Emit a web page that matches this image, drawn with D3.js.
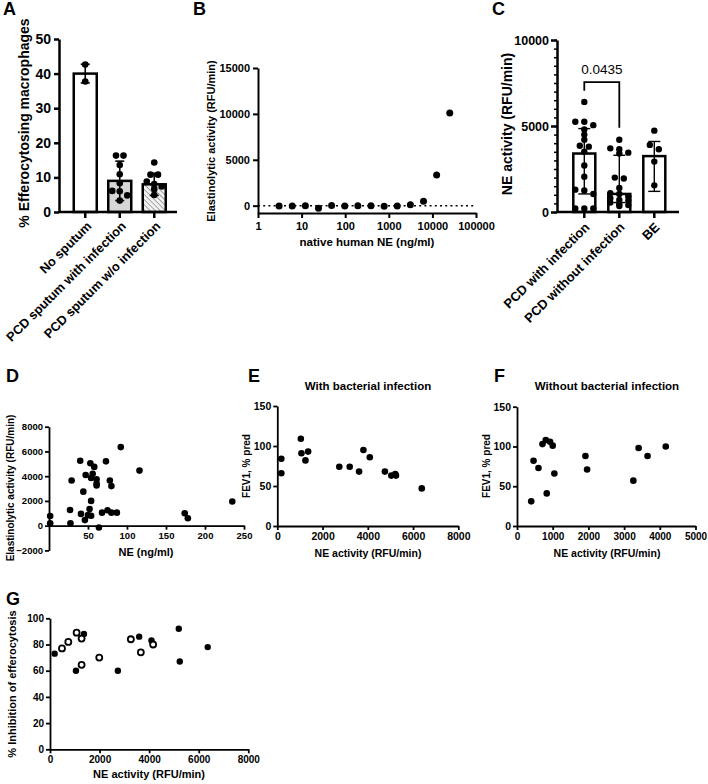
<!DOCTYPE html>
<html><head><meta charset="utf-8">
<script src="https://cdn.jsdelivr.net/npm/d3@7"></script>
<style>
body{margin:0;background:#fff}
svg{display:block}
text{font-family:'Liberation Sans',Arial,Helvetica,sans-serif;fill:#000}
</style>
</head><body>
<svg id="c" width="708" height="784"></svg>
<script>
// ---------------- DATA ----------------
// Panel A
const aCategories = ["No sputum", "PCD sputum with infection", "PCD sputum w/o infection"];
const aMeans = [40, 9, 8];
const aSD = [2.7, 5.7, 3.2];
const aPoints = [
  [42.6, 37.7],
  [16.3, 16.3, 13.6, 10.9, 8.3, 6.1, 6.0, 4.8, 3.3],
  [14.3, 10.8, 10.8, 8.8, 8.1, 7.4, 6.6, 4.9]
];
const aTicks = [0, 10, 20, 30, 40, 50];

// Panel B
const bDose = [3.05, 6.1, 12.2, 24.4, 48.8, 97.7, 195.3, 390.6, 781.3, 1562.5, 3125, 6250, 12500, 25000];
const bActivity = [-50, -30, 0, -280, 20, -40, 0, -20, -60, -30, 100, 480, 3350, 10100];
const bXTicks = [1, 10, 100, 1000, 10000, 100000];
const bYTicks = [0, 5000, 10000, 15000];

// Panel C
const cCategories = ["PCD with infection", "PCD without infection", "BE"];
const cBars = [3400, 1050, 3250];
const cErrLow = [1050, 550, 1200];
const cErrHigh = [4850, 3300, 4100];
const cPoints = [
  [6400, 5250, 5250, 5050, 4800, 4500, 4200, 3850, 3800, 3500, 2700, 2050, 1300, 1250, 1050, 200, 200, 200],
  [4200, 3700, 3650, 3450, 3400, 2000, 1950, 1400, 1100, 1050, 900, 800, 700, 650, 550, 450, 400, 350],
  [4730, 3900, 3650, 2930, 1550]
];
const cYTicks = [0, 5000, 10000];
const cPValue = "0.0435";
const cBracketTop = 7550, cBracketLeftEnd = 7050, cBracketRightEnd = 4900;

// Panel D
const dNE = [1.5, 1.5, 27, 27.5, 29, 40, 41, 44, 46, 47, 50, 52, 53, 54, 54, 54, 56, 58, 61, 61, 61, 64, 68, 73, 75, 78, 80, 80, 87, 92, 116, 174, 178, 235];
const dActivity = [780, 200, 1270, 200, 3650, 5250, 950, 2750, 450, 4100, 850, 1350, 5050, 3850, 2000, 800, 4200, 4750, 3750, 3400, 3250, -150, 1050, 5200, 1250, 3650, 3200, 1050, 1050, 6350, 4450, 1000, 600, 1950];
const dXTicks = [50, 100, 150, 200, 250];
const dYTicks = [-2000, 0, 2000, 4000, 6000, 8000];

// Panel E
const eNE = [178, 178, 1040, 1067, 1244, 1363, 2740, 3200, 3615, 3807, 4089, 4756, 5037, 5215, 5244, 6385];
const eFEV1 = [84, 66, 109, 91, 82, 93, 74, 74, 68, 95, 86, 68, 63, 65, 63, 47];
const eXTicks = [0, 2000, 4000, 6000, 8000];
const eYTicks = [0, 50, 100, 150];

// Panel F
const fNE = [398, 463, 602, 713, 806, 833, 926, 1000, 1046, 1917, 1963, 3259, 3407, 3657, 4167];
const fFEV1 = [31, 82, 73, 103, 108, 41, 106, 101, 66, 88, 71, 57, 98, 88, 100];
const fXTicks = [0, 1000, 2000, 3000, 4000, 5000];
const fYTicks = [0, 50, 100, 150];

// Panel G
const gInfNE = [188, 1047, 1369, 2738, 3597, 4094, 5195, 5235, 6362];
const gInfInhibition = [73, 60, 88, 60, 86, 83, 92, 67, 78];
const gNoInfNE = [483, 738, 1074, 1275, 1275, 1987, 3262, 3664, 4161];
const gNoInfInhibition = [77, 82, 89, 84.5, 64.5, 70, 84, 74, 80];
const gXTicks = [0, 2000, 4000, 6000, 8000];
const gYTicks = [0, 20, 40, 60, 80, 100];

// ---------------- DRAWING ----------------
const FONT = "'Liberation Sans', Arial, Helvetica, sans-serif";
const fmt = d3.format("d");
const svg = d3.select("#c");

const defs = svg.append("defs");
const pat = defs.append("pattern").attr("id", "hatch").attr("patternUnits", "userSpaceOnUse")
  .attr("width", 3.6).attr("height", 3.6).attr("patternTransform", "rotate(-45)");
pat.append("rect").attr("width", 3.6).attr("height", 3.6).attr("fill", "#f2f2f2");
pat.append("line").attr("x1", 0).attr("y1", 0).attr("x2", 0).attr("y2", 3.6)
  .attr("stroke", "#8a8a8a").attr("stroke-width", 1.5);

function styleAxis(g, sw, fs) {
  g.attr("font-family", FONT).attr("font-size", fs);
  g.selectAll("path,line").attr("stroke", "#000").attr("stroke-width", sw);
  g.selectAll("text").style("font-weight", "bold").attr("fill", "#000");
}
function label(t, x, y, size) {
  svg.append("text").attr("x", x).attr("y", y).attr("font-size", size).style("font-weight", "bold").text(t);
}
function vTitle(t, cx, cy, size) {
  svg.append("text").attr("transform", `translate(${cx},${cy}) rotate(-90)`)
    .attr("text-anchor", "middle").attr("dominant-baseline", "central")
    .attr("font-size", size).style("font-weight", "bold").text(t);
}
function hTitle(t, cx, y, size, weight) {
  svg.append("text").attr("x", cx).attr("y", y).attr("text-anchor", "middle")
    .attr("font-size", size).style("font-weight", weight || "bold").text(t);
}
// row-based swarm layout like Prism
function swarm(values, yScale, cx, spacing, rowH, maxPerRow) {
  const idx = values.map((v, i) => i).sort((a, b) => values[b] - values[a]);
  const rows = [];
  idx.forEach(i => {
    const y = yScale(values[i]);
    const last = rows[rows.length - 1];
    if (last && Math.abs(y - last.y0) < rowH && last.items.length < maxPerRow) last.items.push({ i, y });
    else rows.push({ y0: y, items: [{ i, y }] });
  });
  const out = [];
  rows.forEach(r => {
    const n = r.items.length;
    r.items.forEach((it, k) => out.push({ x: cx + (k - (n - 1) / 2) * spacing, y: it.y }));
  });
  return out;
}

// ===== Panel A =====
(function () {
  const yA = d3.scaleLinear().domain([0, 50]).range([212, 39]);
  const xA = d3.scaleBand().domain(aCategories).range([73.75, 165.75]).paddingInner(1 - 23 / 34.5).paddingOuter(0);
  const fills = ["#ffffff", "#d6d6d6", "url(#hatch)"];
  const g = svg.append("g");
  g.selectAll("rect.bar").data(aCategories).join("rect")
    .attr("x", d => xA(d)).attr("width", xA.bandwidth())
    .attr("y", (d, i) => yA(aMeans[i])).attr("height", (d, i) => yA(0) - yA(aMeans[i]))
    .attr("fill", (d, i) => fills[i]).attr("stroke", "#000").attr("stroke-width", 2.5);
  aCategories.forEach((c, i) => {
    const cx = xA(c) + xA.bandwidth() / 2;
    const lo = yA(aMeans[i] - aSD[i]), hi = yA(aMeans[i] + aSD[i]);
    g.append("line").attr("x1", cx).attr("x2", cx).attr("y1", lo).attr("y2", hi).attr("stroke", "#000").attr("stroke-width", 1.6);
    [lo, hi].forEach(y => g.append("line").attr("x1", cx - 4.5).attr("x2", cx + 4.5).attr("y1", y).attr("y2", y).attr("stroke", "#000").attr("stroke-width", 1.6));
    const pts = swarm(aPoints[i], yA, cx, 7.5, 5, 3);
    g.selectAll(null).data(pts).join("circle").attr("cx", d => d.x).attr("cy", d => d.y).attr("r", 3.3).attr("fill", "#000");
  });
  const ya = svg.append("g").attr("transform", "translate(59,0)")
    .call(d3.axisLeft(yA).tickValues(aTicks).tickFormat(fmt).tickSize(5).tickSizeOuter(0).tickPadding(3));
  styleAxis(ya, 2.5, 14);
  svg.append("line").attr("x1", 59).attr("x2", 177).attr("y1", 212).attr("y2", 212).attr("stroke", "#000").attr("stroke-width", 2.5);
  aCategories.forEach(c => {
    const cx = xA(c) + xA.bandwidth() / 2;
    svg.append("line").attr("x1", cx).attr("x2", cx).attr("y1", 212).attr("y2", 218).attr("stroke", "#000").attr("stroke-width", 2.5);
    svg.append("text").attr("transform", `translate(${cx + 7},${227}) rotate(-45)`)
      .attr("text-anchor", "end").attr("font-size", 12.8).style("font-weight", "bold").text(c);
  });
  vTitle("% Efferocytosing macrophages", 24, 123, 14);
  label("A", 3, 15, 18);
})();

// ===== Panel B =====
(function () {
  const xB = d3.scaleLog().domain([1, 100000]).range([258, 476]);
  const yB = d3.scaleLinear().domain([-800, 15000]).range([213, 68]);
  svg.append("line").attr("x1", 258).attr("x2", 476).attr("y1", yB(0)).attr("y2", yB(0))
    .attr("stroke", "#000").attr("stroke-width", 1.5).attr("stroke-dasharray", "2,3.2");
  svg.append("g").selectAll("circle").data(bDose).join("circle")
    .attr("cx", d => xB(d)).attr("cy", (d, i) => yB(bActivity[i])).attr("r", 3.5).attr("fill", "#000");
  const ya = svg.append("g").attr("transform", "translate(258,0)")
    .call(d3.axisLeft(yB).tickValues(bYTicks).tickFormat(fmt).tickSize(5).tickSizeOuter(0).tickPadding(3));
  styleAxis(ya, 2, 11);
  const xa = svg.append("g").attr("transform", "translate(0,213)")
    .call(d3.axisBottom(xB).tickValues(bXTicks).tickFormat(fmt).tickSize(5).tickSizeOuter(0).tickPadding(4));
  styleAxis(xa, 2, 11);
  vTitle("Elastinolytic activity (RFU/min)", 211, 141, 11);
  hTitle("native human NE (ng/ml)", 367, 246, 11.5);
  label("B", 193, 15, 18);
})();

// ===== Panel C =====
(function () {
  const yC = d3.scaleLinear().domain([0, 10000]).range([212, 40]);
  const xC = d3.scaleBand().domain(cCategories).range([573.3, 665.3]).paddingInner(1 - 22 / 35).paddingOuter(0);
  const g = svg.append("g");
  g.selectAll("rect").data(cCategories).join("rect")
    .attr("x", d => xC(d)).attr("width", xC.bandwidth())
    .attr("y", (d, i) => yC(cBars[i])).attr("height", (d, i) => yC(0) - yC(cBars[i]))
    .attr("fill", "#fff").attr("stroke", "#000").attr("stroke-width", 2.5);
  cCategories.forEach((c, i) => {
    const cx = xC(c) + xC.bandwidth() / 2;
    const lo = yC(cErrLow[i]), hi = yC(cErrHigh[i]);
    g.append("line").attr("x1", cx).attr("x2", cx).attr("y1", lo).attr("y2", hi).attr("stroke", "#000").attr("stroke-width", 1.4);
    [lo, hi].forEach(y => g.append("line").attr("x1", cx - 6).attr("x2", cx + 6).attr("y1", y).attr("y2", y).attr("stroke", "#000").attr("stroke-width", 1.4));
    const pts = swarm(cPoints[i], yC, cx, 9, 4.5, 3);
    g.selectAll(null).data(pts).join("circle").attr("cx", d => d.x).attr("cy", d => d.y).attr("r", 3.2).attr("fill", "#000");
  });
  const ya = svg.append("g").attr("transform", "translate(557,0)")
    .call(d3.axisLeft(yC).tickValues(cYTicks).tickFormat(fmt).tickSize(6).tickSizeOuter(0).tickPadding(2));
  styleAxis(ya, 2.5, 12.5);
  const minor = svg.append("g").attr("transform", "translate(557,0)")
    .call(d3.axisLeft(yC).tickValues(d3.range(0, 10001, 500)).tickSize(3).tickFormat(""));
  minor.select(".domain").remove();
  minor.selectAll("line").attr("stroke", "#000").attr("stroke-width", 1.5);
  svg.append("line").attr("x1", 557).attr("x2", 679).attr("y1", 212).attr("y2", 212).attr("stroke", "#000").attr("stroke-width", 2.5);
  cCategories.forEach(c => {
    const cx = xC(c) + xC.bandwidth() / 2;
    svg.append("line").attr("x1", cx).attr("x2", cx).attr("y1", 212).attr("y2", 218).attr("stroke", "#000").attr("stroke-width", 2.5);
    svg.append("text").attr("transform", `translate(${cx + 6},${228}) rotate(-45)`)
      .attr("text-anchor", "end").attr("font-size", 13).style("font-weight", "bold").text(c);
  });
  const x1 = xC(cCategories[0]) + xC.bandwidth() / 2, x2 = xC(cCategories[1]) + xC.bandwidth() / 2;
  svg.append("path").attr("d", `M${x1},${yC(cBracketLeftEnd)}V${yC(cBracketTop)}H${x2}V${yC(cBracketRightEnd)}`)
    .attr("fill", "none").attr("stroke", "#000").attr("stroke-width", 1.8);
  hTitle(cPValue, (x1 + x2) / 2, yC(cBracketTop) - 8, 13.5, "normal");
  vTitle("NE activity (RFU/min)", 507, 124, 14);
  label("C", 492, 15, 18);
})();

// ===== Panel D =====
(function () {
  const xD = d3.scaleLinear().domain([0, 250]).range([49, 244]);
  const yD = d3.scaleLinear().domain([-2000, 8000]).range([550.4, 426.7]);
  const ya = svg.append("g").attr("transform", "translate(49,0)")
    .call(d3.axisLeft(yD).tickValues(dYTicks).tickFormat(fmt).tickSize(4).tickSizeOuter(0).tickPadding(2));
  styleAxis(ya, 1.8, 9.5);
  const xa = svg.append("g").attr("transform", `translate(0,${yD(0)})`)
    .call(d3.axisBottom(xD).tickValues(dXTicks).tickFormat(fmt).tickSize(4).tickSizeOuter(0).tickPadding(3));
  styleAxis(xa, 1.8, 9.5);
  svg.append("g").selectAll("circle").data(dNE).join("circle")
    .attr("cx", d => xD(d)).attr("cy", (d, i) => yD(dActivity[i])).attr("r", 3.3).attr("fill", "#000");
  vTitle("Elastinolytic activity  (RFU/min)", 10, 488, 10);
  hTitle("NE (ng/ml)", 146, 556, 11);
  label("D", 6, 382, 18);
})();

// ===== Panel E =====
(function () {
  const xE = d3.scaleLinear().domain([0, 8000]).range([277.3, 458.3]);
  const yE = d3.scaleLinear().domain([0, 150]).range([526, 406]);
  const ya = svg.append("g").attr("transform", "translate(277.3,0)")
    .call(d3.axisLeft(yE).tickValues(eYTicks).tickFormat(fmt).tickSize(4).tickSizeOuter(0).tickPadding(2));
  styleAxis(ya, 1.8, 10.5);
  const xa = svg.append("g").attr("transform", "translate(0,526)")
    .call(d3.axisBottom(xE).tickValues(eXTicks).tickFormat(fmt).tickSize(4).tickSizeOuter(0).tickPadding(3));
  styleAxis(xa, 1.8, 10.5);
  svg.append("g").selectAll("circle").data(eNE).join("circle")
    .attr("cx", d => xE(d)).attr("cy", (d, i) => yE(eFEV1[i])).attr("r", 3.3).attr("fill", "#000");
  hTitle("With bacterial infection", 368, 390, 11.5);
  vTitle("FEV1, % pred", 246, 466, 10);
  hTitle("NE activity (RFU/min)", 368, 557, 10.5);
  label("E", 248, 382, 18);
})();

// ===== Panel F =====
(function () {
  const xF = d3.scaleLinear().domain([0, 5000]).range([517, 695.5]);
  const yF = d3.scaleLinear().domain([0, 150]).range([526, 406.7]);
  const ya = svg.append("g").attr("transform", "translate(517,0)")
    .call(d3.axisLeft(yF).tickValues(fYTicks).tickFormat(fmt).tickSize(4).tickSizeOuter(0).tickPadding(2));
  styleAxis(ya, 1.8, 10.5);
  const xa = svg.append("g").attr("transform", "translate(0,526)")
    .call(d3.axisBottom(xF).tickValues(fXTicks).tickFormat(fmt).tickSize(4).tickSizeOuter(0).tickPadding(3));
  styleAxis(xa, 1.8, 10);
  svg.append("g").selectAll("circle").data(fNE).join("circle")
    .attr("cx", d => xF(d)).attr("cy", (d, i) => yF(fFEV1[i])).attr("r", 3.3).attr("fill", "#000");
  hTitle("Without bacterial infection", 607, 390, 11.5);
  vTitle("FEV1, % pred", 486, 466, 10);
  hTitle("NE activity (RFU/min)", 607, 557, 10.5);
  label("F", 494, 382, 18);
})();

// ===== Panel G =====
(function () {
  const xG = d3.scaleLinear().domain([0, 8000]).range([50, 248.3]);
  const yG = d3.scaleLinear().domain([0, 100]).range([749.3, 618.3]);
  const ya = svg.append("g").attr("transform", "translate(50,0)")
    .call(d3.axisLeft(yG).tickValues(gYTicks).tickFormat(fmt).tickSize(4).tickSizeOuter(0).tickPadding(2));
  styleAxis(ya, 1.8, 10);
  const xa = svg.append("g").attr("transform", "translate(0,749.3)")
    .call(d3.axisBottom(xG).tickValues(gXTicks).tickFormat(fmt).tickSize(4).tickSizeOuter(0).tickPadding(3));
  styleAxis(xa, 1.8, 10);
  svg.append("g").selectAll("circle").data(gInfNE).join("circle")
    .attr("cx", d => xG(d)).attr("cy", (d, i) => yG(gInfInhibition[i])).attr("r", 3.2).attr("fill", "#000");
  svg.append("g").selectAll("circle").data(gNoInfNE).join("circle")
    .attr("cx", d => xG(d)).attr("cy", (d, i) => yG(gNoInfInhibition[i])).attr("r", 3)
    .attr("fill", "#fff").attr("stroke", "#000").attr("stroke-width", 1.8);
  vTitle("% Inhibition of efferocytosis", 12, 684, 11);
  hTitle("NE activity (RFU/min)", 149, 778, 11);
  label("G", 6, 605, 18);
})();
</script>
</body></html>
